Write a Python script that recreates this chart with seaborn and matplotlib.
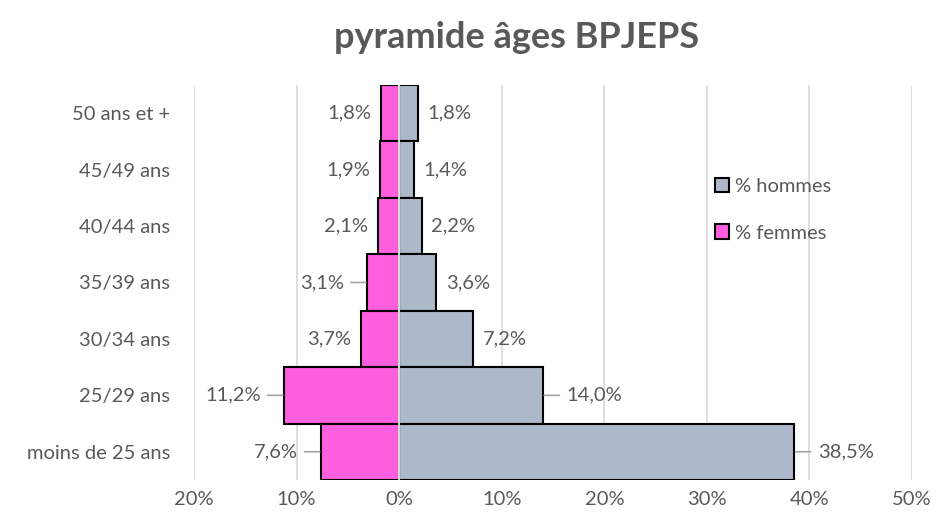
import numpy as np
import pandas as pd
import matplotlib
matplotlib.use("Agg")
import matplotlib.pyplot as plt
import seaborn as sns
from matplotlib.patches import Patch

# ===== DATA =====
categories = ["50 ans et +", "45/49 ans", "40/44 ans", "35/39 ans",
              "30/34 ans", "25/29 ans", "moins de 25 ans"]
hommes = [1.8, 1.4, 2.2, 3.6, 7.2, 14.0, 38.5]
femmes = [1.8, 1.9, 2.1, 3.1, 3.7, 11.2, 7.6]
leader_f = [False, False, False, True, False, True, True]
leader_h = [False, False, False, False, False, True, True]
xticks = [-20, -10, 0, 10, 20, 30, 40, 50]
xtick_labels = ["20%", "10%", "0%", "10%", "20%", "30%", "40%", "50%"]

df = pd.DataFrame({"cat": categories, "hommes": hommes,
                   "femmes": [-v for v in femmes]})

# ===== STYLE =====
sns.set_theme(style="white")
plt.rcParams['font.family'] = ['Lato', 'DejaVu Sans']
txt = "#595959"
grid = "#D9D9D9"
c_h = "#ADB9CA"
c_f = "#FF5FDF"
fs = 14.5

fig = plt.figure(figsize=(9.36, 5.18), dpi=100)
ax = fig.add_axes([0.2073, 0.0734, 0.7671, 0.7626])

sns.barplot(data=df, x="hommes", y="cat", color=c_h, edgecolor="black",
            linewidth=1.5, width=1.0, saturation=1, ax=ax, orient="h", zorder=2)
sns.barplot(data=df, x="femmes", y="cat", color=c_f, edgecolor="black",
            linewidth=1.5, width=1.0, saturation=1, ax=ax, orient="h", zorder=2)

ax.set_xlim(-20, 50)
ax.set_ylim(len(categories) - 0.5, -0.5)
ax.set_xticks(xticks)
ax.set_xticklabels(xtick_labels, color=txt, fontsize=fs)
ax.tick_params(axis="x", length=0, pad=8)
ax.tick_params(axis="y", length=0, pad=17, labelsize=fs, labelcolor=txt)
ax.set_xlabel("")
ax.set_ylabel("")
for x in xticks:
    if x != 0:
        ax.axvline(x, color=grid, lw=1.2, zorder=0)
ax.axvline(0, color=grid, lw=1.5, zorder=3)
for s in ax.spines.values():
    s.set_visible(False)

# ===== LABELS =====
for i, (h, f) in enumerate(zip(hommes, femmes)):
    lab_h = f"{h:.1f}%".replace(".", ",")
    lab_f = f"{f:.1f}%".replace(".", ",")
    gh = 17 if leader_h[i] else 7
    gf = 17 if leader_f[i] else 7
    ax.annotate(lab_h, (h, i), xytext=(gh, 0), textcoords="offset points",
                ha="left", va="center", color=txt, fontsize=fs)
    ax.annotate(lab_f, (-f, i), xytext=(-gf, 0), textcoords="offset points",
                ha="right", va="center", color=txt, fontsize=fs)
    if leader_h[i]:
        ax.annotate("", (h, i), xytext=(12, 0), textcoords="offset points",
                    arrowprops=dict(arrowstyle="-", color="#A6A6A6", lw=1.2,
                                    shrinkA=0, shrinkB=1))
    if leader_f[i]:
        ax.annotate("", (-f, i), xytext=(-12, 0), textcoords="offset points",
                    arrowprops=dict(arrowstyle="-", color="#A6A6A6", lw=1.2,
                                    shrinkA=0, shrinkB=1))

# ===== LEGEND =====
handles = [Patch(facecolor=c_h, edgecolor="black", lw=1.5, label="% hommes"),
           Patch(facecolor=c_f, edgecolor="black", lw=1.5, label="% femmes")]
leg = ax.legend(handles=handles, loc="upper left", bbox_to_anchor=(0.70, 0.81),
                frameon=False, fontsize=fs, handlelength=0.7, handleheight=0.7,
                handletextpad=0.3, labelspacing=1.45, labelcolor=txt)

fig.suptitle("pyramide âges BPJEPS", x=0.552, y=0.96, fontsize=26,
             fontweight="bold", color=txt)

fig.savefig("out.png", dpi=100)
